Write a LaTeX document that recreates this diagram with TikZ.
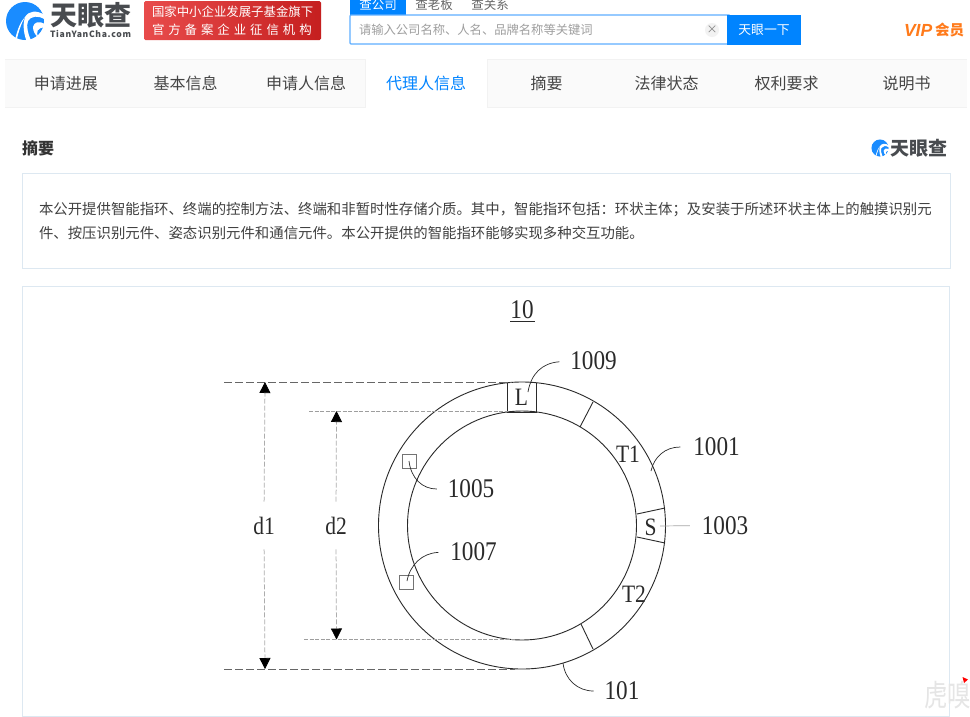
\documentclass[tikz,border=0pt]{standalone}
\usepackage{fontspec}
\setmainfont{Noto Sans CJK SC}
\newfontfamily\figfont{Liberation Serif}
\newfontfamily\vipfont{Liberation Sans}
\newfontfamily\spacedfont[LetterSpace=32]{Noto Sans CJK SC}
\usetikzlibrary{arrows.meta,calc}
\definecolor{brandblue}{HTML}{1A8CFF}
\definecolor{btnblue}{HTML}{0084FF}
\definecolor{logodark}{HTML}{484B4F}
\definecolor{navtext}{HTML}{444444}
\definecolor{panelline}{HTML}{DDE8F1}
\definecolor{figline}{HTML}{2A2A2A}
\definecolor{badgeL}{HTML}{E84B4B}
\definecolor{badgeR}{HTML}{C51F1F}
\definecolor{vipcol}{HTML}{FF7A1A}
\tikzset{
  every node/.style={inner sep=0pt,outer sep=0pt},
  tabtext/.style={font=\fontsize{16}{16}\selectfont,text=navtext},
  panelbox/.style={draw=panelline,fill=white,line width=.9pt},
  figlabel/.style={font=\figfont\fontsize{27}{27}\selectfont,text=figline,xscale=.86,transform shape},
  partlabel/.style={figlabel,font=\figfont\fontsize{25}{25}\selectfont},
  leader/.style={draw=figline,line width=.7pt},
  graylead/.style={draw=black!35,line width=.7pt},
  ringline/.style={draw=figline,line width=.9pt},
  partline/.style={draw=figline,line width=.9pt},
  smallsq/.style={draw=black!55,line width=.7pt,minimum size=14pt,fill=none},
  dimdark/.style={draw=black!60,line width=.95pt,dash pattern=on 8pt off 3pt},
  dimlight/.style={draw=black!38,line width=.75pt,dash pattern=on 4pt off 1.6pt},
  dimarrow/.style={draw=black!32,line width=.75pt,dash pattern=on 5pt off 2pt,-{Triangle[width=11pt,length=11pt,black]}},
}
\newcommand{\tyclogo}[3]{%
  \begin{scope}[shift={(#1,#2)},scale=#3]
    \fill[brandblue] (0,0) circle (19);
    % thin diagonal
    \fill[white] (-9.500,17) .. controls (-7.500,8) and (-4,0) .. (0,-4)
       .. controls (-3,1) and (-6,9) .. (-8,17.500) -- cycle;
    % main swoosh
    \fill[white] (0,-4) .. controls (4,-10.500) and (12,-11) .. (19.500,-6)
       -- (20,-1.500) .. controls (13,-6) and (6,-5) .. (3,0)
       .. controls (1,5) and (3,13) .. (6,19.500) -- (1.500,20)
       .. controls (-2,10) and (-2,2) .. (0,-4) -- cycle;
    % lower right cut
    \fill[white] (20,3) .. controls (14,-.500) and (9,1) .. (8,6)
       .. controls (8,10) and (10,14) .. (13,16)
       .. controls (11,11) and (12,6.500) .. (20,6.500) -- cycle;
  \end{scope}}
\begin{document}
\begin{tikzpicture}[x=1pt,y=-1pt]
\useasboundingbox (0,0) rectangle (970,716);
\fill[white] (0,0) rectangle (970,716);
% header
\tyclogo{25}{21}{1}
\node[font=\bfseries\fontsize{27}{27}\selectfont,text=logodark,anchor=center] (brand) at (90.500,15) {天眼查};
\node[font=\bfseries\fontsize{8.6}{10}\selectfont,text=logodark,anchor=center] (brandurl) at (90.500,34) {\addfontfeature{LetterSpace=8}TianYanCha.com};
\shade[left color=badgeL,right color=badgeR,rounded corners=1.5pt] (144,1) rectangle (321,40);
\node[font=\fontsize{12.4}{13}\selectfont,text=white,anchor=west] (badgeA) at (152,12) {国家中小企业发展子基金旗下};
\node[font=\spacedfont\fontsize{12.4}{13}\selectfont,text=white,anchor=west] (badgeB) at (152,30) {官方备案企业征信机构};
% search
\fill[btnblue] (350,0) rectangle (406,15);
\begin{scope}
\clip (340,0) rectangle (530,16);
\node[font=\fontsize{12.5}{13}\selectfont,text=white] (tabA) at (378,5) {查公司};
\node[font=\fontsize{12.5}{13}\selectfont,text=black!60] (tabB) at (434,5) {查老板};
\node[font=\fontsize{12.5}{13}\selectfont,text=black!60] (tabC) at (490,5) {查关系};
\end{scope}
\draw[draw=brandblue!70,fill=white,line width=1.2pt,rounded corners=1pt] (350,15) rectangle (730,44);
\fill[btnblue] (727,15) rectangle (801,44.600);
\node[font=\fontsize{12.3}{13}\selectfont,text=black!38,anchor=west] (hint) at (359,30) {请输入公司名称、人名、品牌名称等关键词};
\fill[black!5] (712,30) circle (7);
\node[font=\fontsize{11}{11}\selectfont,text=black!50] (clearx) at (712,30) {×};
\node[font=\fontsize{12.8}{13}\selectfont,text=white] (btntext) at (764,30) {天眼一下};
\node[font=\vipfont\bfseries\itshape\fontsize{17.500}{17}\selectfont,text=vipcol,anchor=west] (vip) at (904,30) {VIP};
\node[font=\bfseries\fontsize{14.500}{15}\selectfont,text=vipcol,anchor=west] (vipcn) at (935,30) {会员};
% nav
\fill[black!2] (5,59) rectangle (967,107);
\draw[black!5,line width=.8pt] (5,59) -- (967,59) (5,107.500) -- (967,107.500);
\fill[white] (365.500,59) rectangle (487,108);
\draw[black!5,line width=.8pt] (365.500,59) -- (365.500,107.500) (487,59) -- (487,107.500);
\node[tabtext] (navA) at (66,83) {申请进展};
\node[tabtext] (navB) at (185.500,83) {基本信息};
\node[tabtext] (navC) at (306,83) {申请人信息};
\node[tabtext,text=btnblue] (navD) at (426,83) {代理人信息};
\node[tabtext] (navE) at (546.500,83) {摘要};
\node[tabtext] (navF) at (666.500,83) {法律状态};
\node[tabtext] (navG) at (786.500,83) {权利要求};
\node[tabtext] (navH) at (906.500,83) {说明书};
% summary
\node[font=\bfseries\fontsize{16}{16}\selectfont,text=black!80,anchor=west] (title) at (22,148) {摘要};
\tyclogo{880}{148}{.45}
\node[font=\bfseries\fontsize{19}{19}\selectfont,text=logodark,anchor=west] (brandB) at (890,148) {天眼查};
\draw[panelbox] (22.500,173.500) rectangle (950,268.500);
\node[font=\fontsize{14.400}{14}\selectfont,text=black!75,anchor=west] (absA) at (39,210) {本公开提供智能指环、终端的控制方法、终端和非暂时性存储介质。其中，智能指环包括：环状主体；及安装于所述环状主体上的触摸识别元};
\node[font=\fontsize{14.400}{14}\selectfont,text=black!75,anchor=west] (absB) at (39,233) {件、按压识别元件、姿态识别元件和通信元件。本公开提供的智能指环能够实现多种交互功能。};
\draw[panelbox] (22.500,286.500) rectangle (949.500,716);
% figure
\coordinate (ctr) at (522,525.500);
\node[figlabel] (fig) at (522,310) {10};
\draw[ringline] (510,321) -- (535,321);
\draw[ringline] (ctr) circle (143.500);
\draw[ringline] (ctr) circle (114.500);
% parts on ring
\draw[partline] (507.500,383) -- (507.500,412) -- (536,412) -- (536,383);
\draw[partline] (593,402) -- (580,427);
\draw[partline] (637,514) -- (665,508);
\draw[partline] (637,537) -- (665,543);
\draw[partline] (581,624) -- (593,649);
\node[smallsq] (sqA) at (409.500,461.500) {};
\node[smallsq] (sqB) at (406,582) {};
\node[partlabel] (labL) at (521.500,397) {L};
\node[partlabel] (labT1) at (628,454) {T1};
\node[partlabel] (labS) at (650.500,527.500) {S};
\node[partlabel] (labT2) at (634,594.500) {T2};
\node[figlabel] (l1009) at (593.500,361) {1009};
\node[figlabel] (l1001) at (716.500,447) {1001};
\node[figlabel] (l1005) at (471,489) {1005};
\node[figlabel] (l1003) at (725,525.500) {1003};
\node[figlabel] (l1007) at (473.500,552) {1007};
\node[figlabel] (l101) at (622,691) {101};
\node[partlabel] (d1) at (264,525.500) {d1};
\node[partlabel] (d2) at (336,525.500) {d2};
% leaders
\coordinate (a1009) at (528,392);
\coordinate (a1001) at (651,471);
\coordinate (a1005) at (409,461);
\coordinate (a1003) at (660,526);
\coordinate (a1007) at (407,581);
\coordinate (a101) at (563,663);
\draw[leader,shorten >=11pt] (a1009) .. controls (531,374) and (542,363) .. (l1009.west);
\draw[leader,shorten >=13pt] (a1001) .. controls (654,457) and (665,447) .. (l1001.west);
\draw[leader,shorten >=11pt] (a1005) .. controls (411,478) and (422,489) .. (l1005.west);
\draw[graylead,shorten >=12pt] (a1003) -- (l1003.west);
\draw[leader,shorten >=12pt] (a1007) .. controls (410,565) and (422,553) .. (l1007.west);
\draw[leader,shorten >=11pt] (a101) .. controls (565,680) and (578,691) .. (l101.west);
% dimensions
\coordinate (d1topA) at (224,382);
\coordinate (d1topB) at (512,382);
\coordinate (d1botA) at (224,669);
\coordinate (d1botB) at (515,669);
\coordinate (d2topA) at (309,411);
\coordinate (d2topB) at (508,411);
\coordinate (d2botA) at (304,639.500);
\coordinate (d2botB) at (515,639.500);
\coordinate (d1up) at (265,382);
\coordinate (d1dn) at (265,669);
\coordinate (d2up) at (336.500,411);
\coordinate (d2dn) at (336.500,639.500);
\draw[dimdark] (d1topA) -- (d1topB);
\draw[dimdark] (d1botA) -- (d1botB);
\draw[dimlight] (d2topA) -- (d2topB);
\draw[dimlight] (d2botA) -- (d2botB);
\draw[dimarrow,shorten <=15pt] (d1.north) -- (d1up);
\draw[dimarrow,shorten <=15pt] (d1.south) -- (d1dn);
\draw[dimarrow,shorten <=15pt] (d2.north) -- (d2up);
\draw[dimarrow,shorten <=15pt] (d2.south) -- (d2dn);
% watermark
\begin{scope}
\clip (900,660) rectangle (970,716);
\node[font=\fontsize{30}{30}\selectfont,text=black!10,anchor=west,xscale=.78,transform shape] (wm) at (924,695) {虎嗅};
\fill[red] (962.500,677) -- (968,679.500) -- (964,683) -- cycle;
\end{scope}
\end{tikzpicture}
\end{document}
